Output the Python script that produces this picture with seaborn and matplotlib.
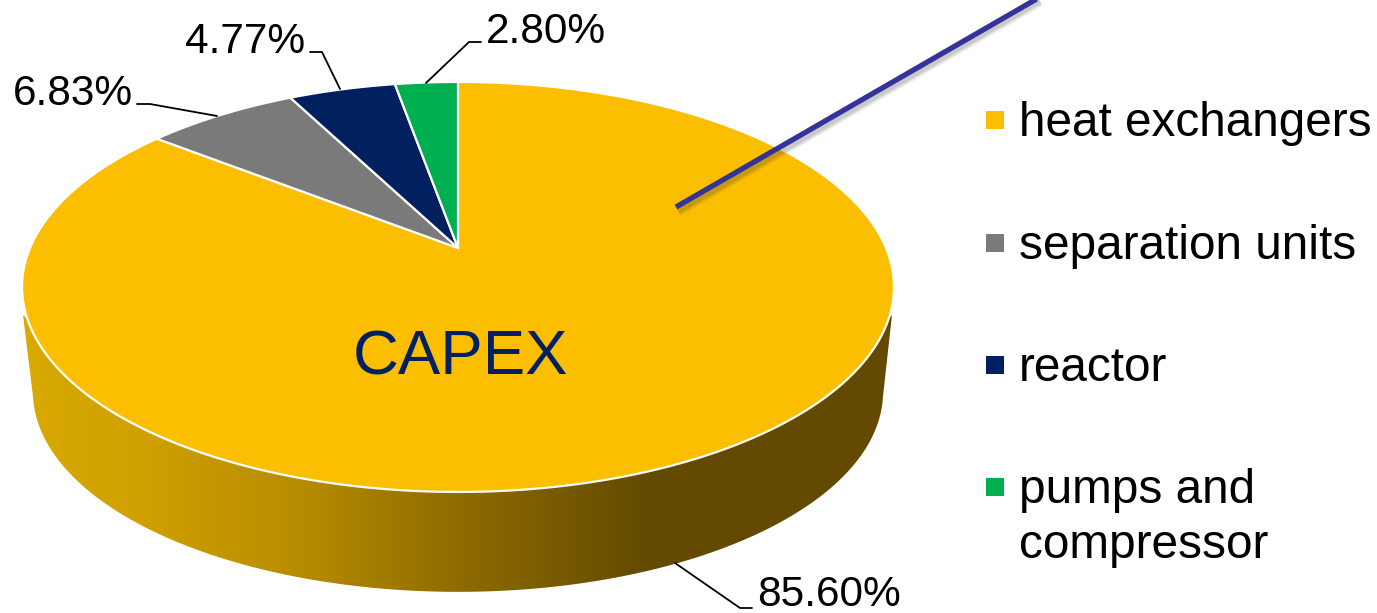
import numpy as np
import seaborn as sns
import matplotlib
matplotlib.use("Agg")
import matplotlib.pyplot as plt
from matplotlib.colors import LinearSegmentedColormap
from matplotlib.patches import Polygon

# data, clockwise from the top of the pie
categories = ["heat exchangers", "separation units", "reactor", "pumps and\ncompressor"]
shares = [85.60, 6.83, 4.77, 2.80]
colors = ["#FCBE00", "#7A7A7A", "#002060", "#00B050"]
value_labels = ["85.60%", "6.83%", "4.77%", "2.80%"]

sns.set_theme(style="white")
plt.rcParams["font.family"] = ["Liberation Sans", "DejaVu Sans"]

fig = plt.figure(figsize=(13.77, 6.13), dpi=100)
ax = fig.add_axes([0, 0, 1, 1])
ax.set_xlim(0, 1377)
ax.set_ylim(613, 0)
ax.axis("off")
palette = sns.color_palette(colors)


# perspective view of a round pie: theta is clockwise from the top
def rim(theta, scale=1.0, y0=248):
    w = 1 + 0.19 * np.cos(theta)
    x = 458 + scale * 428 * np.sin(theta) / w
    y = y0 - scale * 197.6 * np.cos(theta) / w
    return x, y


# side of the pie with the gradient
t = np.radians(np.linspace(60, 300, 600))
top_x, top_y = rim(t)
bot_x, bot_y = rim(t, 0.975, 354)
keep_top = top_y >= 318
keep_bot = bot_y >= 397
side_pts = np.vstack([
    [(892, 315)],
    np.column_stack([top_x[keep_top], top_y[keep_top]]),
    [(23, 315)],
    np.column_stack([bot_x[keep_bot], bot_y[keep_bot]])[::-1],
])
side_clip = Polygon(side_pts, closed=True, transform=ax.transData, fc="none", ec="none")
ax.add_patch(side_clip)
grad = LinearSegmentedColormap.from_list("side", [
    (0.0, "#D9AA00"), (0.15, "#CE9F00"), (0.32, "#B68C00"),
    (0.5, "#8F6C00"), (0.72, "#634A00"), (1.0, "#634A00"),
])
img = ax.imshow(np.linspace(0, 1, 512).reshape(1, -1), cmap=grad, aspect="auto",
                extent=[22, 893, 613, 0], zorder=1)
img.set_clip_path(side_clip)
ax.set_xlim(0, 1377)
ax.set_ylim(613, 0)

# top of the pie
edges = np.cumsum([0] + shares) / 100 * 2 * np.pi
for i in range(len(shares)):
    th = np.linspace(edges[i], edges[i + 1], 400)
    x, y = rim(th)
    ax.fill(np.r_[458, x], np.r_[248, y], color=palette[i], ec="white", lw=1.6, zorder=2)

# leader lines
leaders = [
    [(675, 563), (740, 608), (752, 608)],
    [(217, 116), (150, 104), (137, 104)],
    [(340, 89), (322, 52), (310, 52)],
    [(426, 83), (469, 42), (481, 42)],
]
label_pos = [(757, 595), (13, 94), (185, 42), (486, 32)]
for pts, pos, lab in zip(leaders, label_pos, value_labels):
    ax.plot(*zip(*pts), color="black", lw=1.3, zorder=3)
    ax.text(pos[0], pos[1], lab, fontsize=30.5, color="black", ha="left", va="center", zorder=4)

ax.text(461, 358, "CAPEX", fontsize=45.7, color="#002060", ha="center", va="center", zorder=4)

# blue line across the chart, with a soft shadow under it
for lw, alpha in [(8, 0.07), (6, 0.09), (4, 0.12)]:
    ax.plot([678, 1040], [211, 1], color="#333333", alpha=alpha, lw=lw,
            solid_capstyle="butt", zorder=4)
ax.plot([676, 1040], [207, -3], color="#333399", lw=3.8, solid_capstyle="butt", zorder=5)

# legend
legend_y = [120, 243, 365, 487]
for name, c, yy in zip(categories, palette, legend_y):
    ax.scatter([995], [yy], marker="s", s=170, color=[c], linewidths=0, zorder=4)
    ax.text(1019, yy - 19, name, fontsize=34.4, color="black", ha="left", va="top",
            linespacing=1.28, zorder=4)

fig.savefig("out.png", dpi=100)
